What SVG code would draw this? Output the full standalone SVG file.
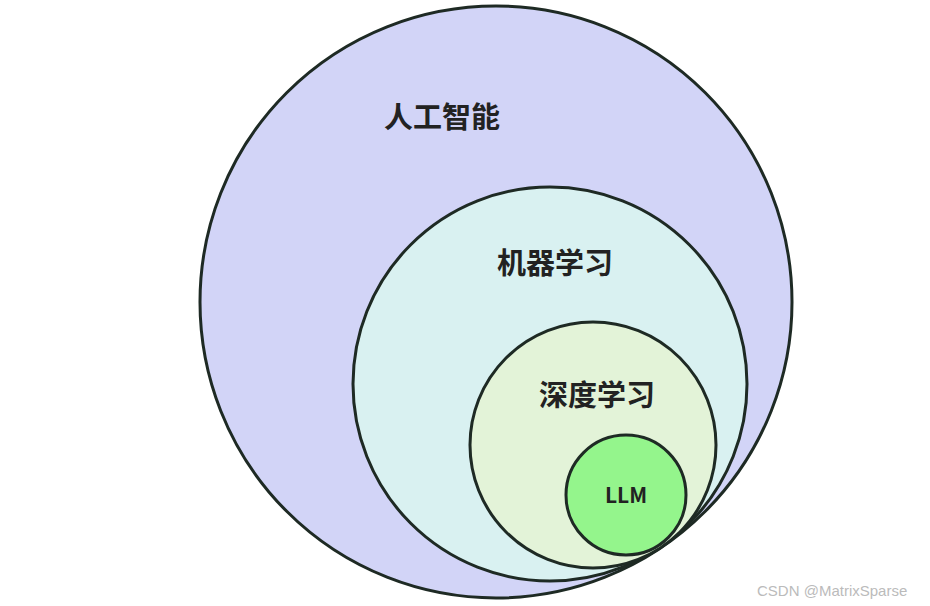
<svg xmlns="http://www.w3.org/2000/svg" width="930" height="606" viewBox="0 0 930 606">
<style>
circle{stroke:#1e2a24;stroke-width:3}
.t{font-family:"Noto Sans CJK SC","Liberation Sans",sans-serif;font-weight:bold;fill:#222;text-anchor:middle}
.w{font-family:"Liberation Sans",sans-serif;fill:#bbb;font-size:15px}
</style>
<rect width="930" height="606" fill="#fff"/>
<g id="ai"><circle cx="496" cy="302" r="296" fill="#d2d4f7"/><text class="t" x="442" y="128" font-size="29">人工智能</text></g>
<g id="ml"><circle cx="550" cy="384" r="197" fill="#d9f1f1"/><text class="t" x="555" y="274" font-size="29">机器学习</text></g>
<g id="dl"><circle cx="593" cy="445" r="123" fill="#e3f3d8"/><text class="t" x="597" y="406" font-size="29">深度学习</text></g>
<g id="llm"><circle cx="626" cy="495" r="60" fill="#94f58c"/><text class="t" x="626" y="503" font-size="21">LLM</text></g>
<g id="connectors"/>
<text class="w" x="757" y="596">CSDN @MatrixSparse</text>
</svg>
